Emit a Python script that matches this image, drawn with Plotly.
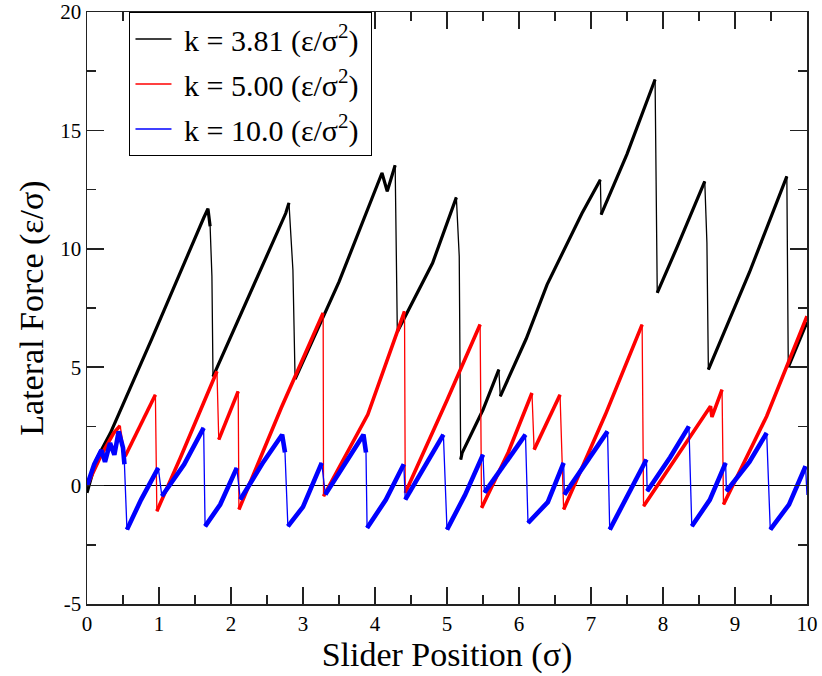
import plotly.graph_objects as go

# ---- data ----
k381_x = [0.0, 0.13, 0.325, 0.9, 1.62, 1.68, 1.71, 1.735, 1.75,
          2.2, 2.76, 2.805, 2.83, 2.86, 2.89,
          3.5, 4.097, 4.17, 4.28, 4.31,
          4.8, 5.13, 5.17, 5.19,
          5.21, 5.5, 5.72, 5.74, 6.1, 6.39, 6.875, 7.13, 7.14, 7.5, 7.89, 7.92,
          8.2, 8.58, 8.61, 8.63,
          9.2, 9.72, 9.74, 10.0]
k381_y = [-0.3, 1.1, 2.22, 6.2, 11.3, 11.69, 10.95, 8.84, 4.6,
          7.7, 11.5, 11.94, 10.67, 9.1, 4.5,
          8.6, 13.2, 12.43, 13.53, 6.5,
          9.4, 12.17, 9.68, 1.1,
          1.38, 3.2, 4.9, 3.77, 6.2, 8.49, 11.5, 12.92, 11.44, 14.0, 17.15, 8.14,
          10.1, 12.85, 10.25, 4.9,
          9.0, 13.06, 5.0, 6.9]

k500_x = [0.0, 0.2, 0.37, 0.46, 0.53, 0.75, 0.95, 0.97,
          1.3, 1.805, 1.83, 2.1, 2.11,
          2.7, 3.28, 3.285, 3.9, 4.41, 4.42,
          5.0, 5.46, 5.48, 5.85, 6.18, 6.21, 6.57, 6.62,
          7.2, 7.71, 7.73, 8.3, 8.66, 8.68, 8.82, 8.84, 9.44, 10.0]
k500_y = [0.0, 1.3, 2.22, 2.53, 1.24, 2.6, 3.84, -1.08,
          1.2, 4.83, 1.94, 3.98, -1.01,
          3.3, 7.29, -0.45, 3.0, 7.36, -0.31,
          3.6, 6.8, -0.94, 1.4, 3.91, 1.52, 3.84, -1.01,
          3.0, 6.8, -0.87, 1.7, 3.35, 2.9, 4.05, -0.8, 2.93, 7.15]

k100_x = [0.0, 0.1, 0.2, 0.25, 0.32, 0.38, 0.44, 0.5, 0.52, 0.555,
          0.75, 0.99, 1.04, 1.35, 1.62, 1.64,
          1.85, 2.08, 2.13, 2.45, 2.71, 2.75, 2.79,
          3.0, 3.26, 3.31, 3.6, 3.84, 3.875, 3.89,
          4.15, 4.4, 4.42, 4.7, 4.95, 5.0,
          5.25, 5.5, 5.52, 5.8, 6.09, 6.125,
          6.4, 6.62, 6.63, 6.95, 7.23, 7.26,
          7.5, 7.77, 7.78, 8.1, 8.36, 8.4,
          8.65, 8.87, 8.88, 9.2, 9.44, 9.49,
          9.75, 9.98, 10.0]
k100_y = [0.0, 0.9, 1.5, 1.0, 1.8, 1.3, 2.29, 1.6, 0.9, -1.86,
          -0.6, 0.75, -0.45, 0.9, 2.44, -1.72,
          -0.8, 0.75, -0.59, 1.0, 2.15, 1.4, -1.72,
          -0.9, 0.96, -0.38, 1.0, 2.15, 1.4, -1.79,
          -0.6, 0.9, -0.59, 0.9, 2.15, -1.86,
          -0.4, 1.31, -0.3, 0.9, 2.15, -1.58,
          -0.7, 0.96, -0.38, 1.0, 2.29, -1.86,
          -0.5, 1.1, -0.24, 1.2, 2.5, -1.72,
          -0.6, 0.96, -0.24, 1.0, 2.22, -1.86,
          -0.8, 0.82, -0.4]

x_tickvals = [0, 1, 2, 3, 4, 5, 6, 7, 8, 9, 10]
x_ticktext = ["0", "1", "2", "3", "4", "5", "6", "7", "8", "9", "10"]
y_tickvals = [-5, 0, 5, 10, 15, 20]
y_ticktext = ["-5", "0", "5", "10", "15", "20"]

series_names = ["k = 3.81 (ε/σ<sup>2</sup>)", "k = 5.00 (ε/σ<sup>2</sup>)", "k = 10.0 (ε/σ<sup>2</sup>)"]

series = [
    (series_names[0], k381_x, k381_y, "#000000", 3.2),
    (series_names[1], k500_x, k500_y, "#ff0000", 3.6),
    (series_names[2], k100_x, k100_y, "#0000ff", 4.6),
]

SERIF = "Liberation Serif, Times New Roman, serif"

fig = go.Figure()


def ramps(xs, ys, thr=-0.8):
    """split the curve at sudden drops so the slow ramps can be drawn thicker"""
    rx, ry = [xs[0]], [ys[0]]
    for i in range(1, len(xs)):
        if ys[i] - ys[i - 1] < thr:
            rx.append(None)
            ry.append(None)
        rx.append(xs[i])
        ry.append(ys[i])
    return rx, ry


for i, (name, xs, ys, col, w) in enumerate(series):
    rx, ry = ramps(xs, ys)
    fig.add_trace(go.Scatter(x=rx, y=ry, mode="lines",
                             line=dict(color=col, width=w, shape="linear"),
                             showlegend=False, hoverinfo="skip", connectgaps=False))
    fig.add_trace(go.Scatter(x=xs, y=ys, mode="lines", name="&nbsp;" + name + "&nbsp;",
                             line=dict(color=col, width=1.3), legendgroup=f"g{i}"))

axis_common = dict(
    showline=True, linecolor="#222222", linewidth=1.5, mirror="ticks",
    ticks="inside", ticklen=17, tickwidth=1.5, tickcolor="#222222",
    showgrid=False, automargin=False, tickmode="array", ticklabeloverflow="allow",
    tickfont=dict(family=SERIF, size=21, color="#000000"),
)

fig.update_xaxes(range=[0, 10], tickvals=x_tickvals, ticktext=x_ticktext,
                 minor=dict(dtick=0.5, tick0=0, ticks="inside", ticklen=9, tickwidth=1.5, tickcolor="#222222"),
                 zeroline=False, ticklabelstandoff=0,
                 title=dict(text="Slider Position (σ)", font=dict(family=SERIF, size=34, color="#000000"),
                            standoff=0),
                 **axis_common)
fig.update_yaxes(range=[-5, 20], tickvals=y_tickvals, ticktext=y_ticktext,
                 minor=dict(dtick=2.5, tick0=0, ticks="inside", ticklen=9, tickwidth=1.5, tickcolor="#222222"),
                 zeroline=True, zerolinecolor="#000000", zerolinewidth=1,
                 title=dict(text="Lateral Force (ε/σ)", font=dict(family=SERIF, size=34, color="#000000"),
                            standoff=6),
                 **axis_common)

fig.update_layout(
    width=822, height=676,
    margin=dict(l=87, r=15, t=12, b=72, autoexpand=False),
    paper_bgcolor="white", plot_bgcolor="white",
    font=dict(family=SERIF, color="#000000"),
    legend=dict(x=0.059, y=1.0, xanchor="left", yanchor="top",
                bgcolor="white", bordercolor="#000000", borderwidth=1,
                font=dict(family=SERIF, size=30, color="#000000"),
                tracegroupgap=3, itemwidth=36),
)

# remove the default 8px page margin so the figure sits at the window's corner
fig.write_html("out.html", config={"displayModeBar": False, "staticPlot": True},
               post_script="document.body.style.margin='0';document.body.style.overflow='hidden';")
